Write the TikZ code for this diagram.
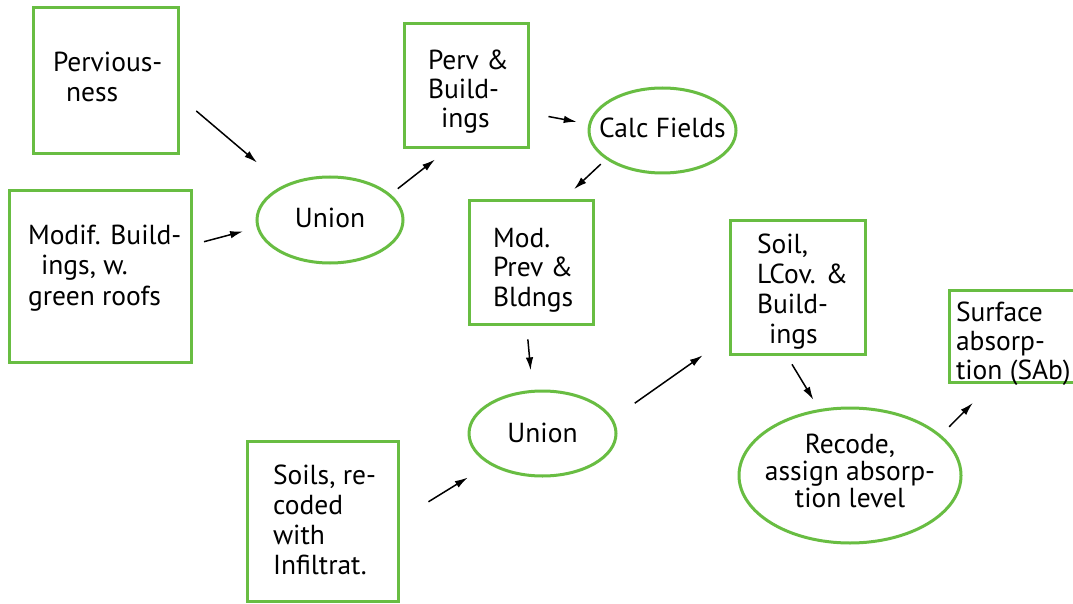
\documentclass[tikz,border=0pt]{standalone}
\usepackage{fontspec}
\setmainfont{PT Sans}
\usetikzlibrary{shapes.geometric,arrows.meta}
\definecolor{grn}{RGB}{104,189,66}
% #1 = x offset of line start, #2 = raise of first baseline, #3 = line skip, #4 = lines
\newcommand\txtblock[4]{\smash{\rlap{\hspace*{#1pt}\raisebox{#2pt}{\vtop{\baselineskip=#3pt\relax #4}}}}}
\newcommand\cl[1]{\hbox to 0pt{\hss #1\hss}}
\newcommand\ind[2]{\hbox{\hspace*{#1pt}#2}}
\begin{document}
\begin{tikzpicture}[x=1pt,y=-1pt,
  font=\fontsize{27.5}{30}\selectfont,
  boxnode/.style={draw=grn, line width=3pt, rectangle, inner sep=0pt},
  ellnode/.style={draw=grn, line width=3pt, ellipse, inner sep=0pt},
  arr/.style={-{Latex[length=13pt,width=7.5pt]}, line width=1.5pt, black}]
\useasboundingbox (0,0) rectangle (1073,604);
\clip (0,0) rectangle (1073,604);
\fill[white] (0,0) rectangle (1073,604);

\node[boxnode, minimum width=145pt, minimum height=146pt] (pv) at (105.5,81)
  {\txtblock{-52.5}{9}{30}{\hbox{Pervious-}\ind{13}{ness}}};
\node[boxnode, minimum width=182pt, minimum height=172pt] (mb) at (100.5,276.5)
  {\txtblock{-72.5}{32.5}{30.5}{\hbox{Modif. Build-}\ind{13}{ings, w.}\hbox{green roofs}}};
\node[ellnode, minimum width=146pt, minimum height=86pt] (u1) at (330,220)
  {\txtblock{0}{-7.7}{30}{\cl{Union}}};
\node[boxnode, minimum width=124pt, minimum height=124pt] (pb) at (466,86)
  {\txtblock{-38}{16}{29}{\hbox{Perv \&}\hbox{Build-}\ind{13}{ings}}};
\node[ellnode, minimum width=147pt, minimum height=85pt] (cf) at (662.5,130.5)
  {\txtblock{0}{-7.5}{30}{\cl{Calc Fields}}};
\node[boxnode, minimum width=124pt, minimum height=123pt] (mp) at (531,262.5)
  {\txtblock{-38}{15.5}{29.5}{\hbox{Mod.}\hbox{Prev \&}\hbox{Bldngs}}};
\node[boxnode, minimum width=135pt, minimum height=134pt] (sl) at (797.5,287)
  {\txtblock{-40.5}{34}{30}{\hbox{Soil,}\hbox{LCov. \&}\hbox{Build-}\ind{12}{ings}}};
\node[ellnode, minimum width=147pt, minimum height=85pt] (u2) at (542.5,433.5)
  {\txtblock{0}{-8.5}{30}{\cl{Union}}};
\node[boxnode, minimum width=151pt, minimum height=160pt] (sr) at (322.5,521)
  {\txtblock{-49.5}{37}{30.3}{\hbox{Soils, re-}\hbox{coded}\hbox{with}\hbox{Infiltrat.}}};
\node[ellnode, minimum width=222pt, minimum height=135pt] (rc) at (850,475.5)
  {\txtblock{0}{22.5}{27}{\cl{Recode,}\cl{assign absorp-}\cl{tion level}}};
\node[boxnode, minimum width=141pt, minimum height=92pt] (sf) at (1019.5,336)
  {\txtblock{-63.5}{15}{29}{\hbox{Surface}\hbox{absorp-}\hbox{tion (SAb)}}};

\draw[arr, shorten <=22pt, shorten >=35pt] (pv.-12) -- (u1.143.5);
\draw[arr, shorten <=11.4pt, shorten >=14pt] (mb.19.2) -- (u1.186);
\draw[arr, shorten <=9pt, shorten >=16.3pt] (u1.23.4) -- (pb.254.6);
\draw[arr, shorten <=19.3pt, shorten >=11.8pt] (pb.-23.8) -- (cf.175.8);
\draw[arr, shorten <=7pt, shorten >=15pt] (cf.207.9) -- (mp.63.3);
\draw[arr, shorten <=14pt, shorten >=19.6pt] (mp.266.1) -- (u2.103.1);
\draw[arr, shorten <=34pt, shorten >=25pt] (sr.1.1) -- (u2.210.9);
\draw[arr, shorten <=26.6pt, shorten >=31.6pt] (u2.12.7) -- (sl.216);
\draw[arr, shorten <=10.3pt, shorten >=11pt] (sl.261.9) -- (rc.115.3);
\draw[arr, shorten <=11.5pt, shorten >=27.4pt] (rc.24.5) -- (sf.240.7);
\end{tikzpicture}
\end{document}
